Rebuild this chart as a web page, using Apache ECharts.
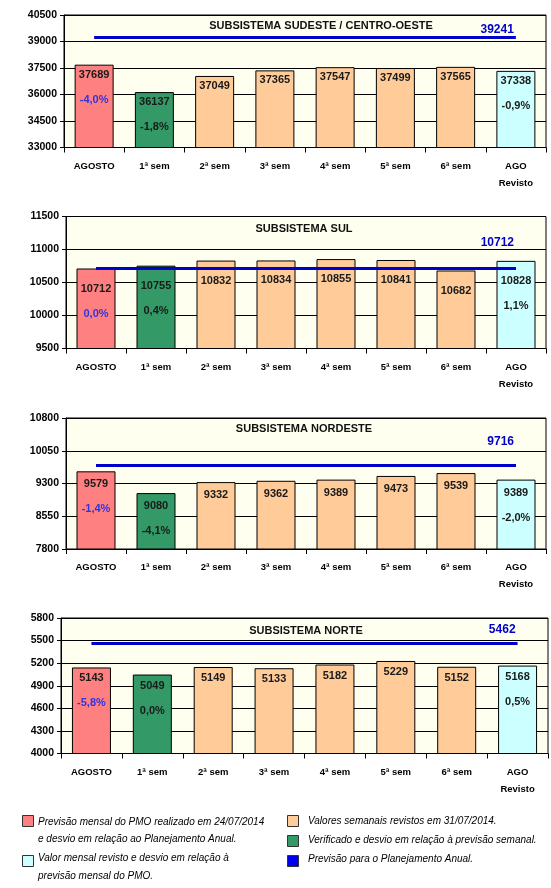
<!DOCTYPE html>
<html>
<head>
<meta charset="utf-8">
<script src="https://cdn.jsdelivr.net/npm/echarts@6/dist/echarts.min.js"></script>
<style>
html,body{margin:0;padding:0;background:#fff;}
#c{width:551px;height:888px;}
</style>
</head>
<body>
<div id="c"></div>
<script>
// ---- data ----
const categories = ['AGOSTO', '1ª sem', '2ª sem', '3ª sem', '4ª sem', '5ª sem', '6ª sem', 'AGO\nRevisto'];

const titles = ['SUBSISTEMA SUDESTE / CENTRO-OESTE', 'SUBSISTEMA SUL', 'SUBSISTEMA NORDESTE', 'SUBSISTEMA NORTE'];

const seValues  = [37689, 36137, 37049, 37365, 37547, 37499, 37565, 37338];
const sulValues = [10712, 10755, 10832, 10834, 10855, 10841, 10682, 10828];
const neValues  = [9579, 9080, 9332, 9362, 9389, 9473, 9539, 9389];
const nValues   = [5143, 5049, 5149, 5133, 5182, 5229, 5152, 5168];

const sePct  = ['-4,0%', '-1,8%', '', '', '', '', '', '-0,9%'];
const sulPct = ['0,0%', '0,4%', '', '', '', '', '', '1,1%'];
const nePct  = ['-1,4%', '-4,1%', '', '', '', '', '', '-2,0%'];
const nPct   = ['-5,8%', '0,0%', '', '', '', '', '', '0,5%'];

const annualForecast = [39241, 10712, 9716, 5462];

const seTicks  = [33000, 34500, 36000, 37500, 39000, 40500];
const sulTicks = [9500, 10000, 10500, 11000, 11500];
const neTicks  = [7800, 8550, 9300, 10050, 10800];
const nTicks   = [4000, 4300, 4600, 4900, 5200, 5500, 5800];

const legendLeft = [
  'Previsão mensal do PMO realizado em 24/07/2014',
  'e desvio em relação ao Planejamento Anual.',
  'Valor mensal revisto e desvio em relação à',
  'previsão mensal do PMO.'
];
const legendRight = [
  'Valores semanais revistos em 31/07/2014.',
  'Verificado e desvio em relação à previsão semanal.',
  'Previsão para o Planejamento Anual.'
];

// ---- layout / style ----
const FONT = '"Liberation Sans", Arial, sans-serif';
const barColors = ['#FF8080', '#339966', '#FFCC99', '#FFCC99', '#FFCC99', '#FFCC99', '#FFCC99', '#CCFFFF'];
const lineColor = '#0000CC';

const layouts = [
  {left: 64, right: 5, top: 15,    height: 132.5, titleX: 321, titleY: 26,  lblRise: 0,  valDist: 3},
  {left: 66, right: 5, top: 216.5, height: 132,   titleX: 304, titleY: 229, lblRise: 18, valDist: 13},
  {left: 66, right: 5, top: 418,   height: 131,   titleX: 304, titleY: 429, lblRise: 16, valDist: 6},
  {left: 61, right: 3, top: 618,   height: 135.5, titleX: 306, titleY: 631, lblRise: 6,  valDist: 4}
];

const valuesList = [seValues, sulValues, neValues, nValues];
const pctList = [sePct, sulPct, nePct, nPct];
const ticksList = [seTicks, sulTicks, neTicks, nTicks];

const grids = [], xAxes = [], yAxes = [], series = [], graphics = [];

layouts.forEach((L, i) => {
  const ticks = ticksList[i];
  const vals = valuesList[i];
  const pcts = pctList[i];
  grids.push({
    left: L.left, right: L.right, top: L.top, height: L.height,
    show: true, backgroundColor: '#FFFFF0', borderColor: '#000', borderWidth: 1
  });
  xAxes.push({
    type: 'category', gridIndex: i, data: categories, boundaryGap: true,
    axisLine: {show: true, lineStyle: {color: '#000', width: 1}},
    axisTick: {show: true, length: 5, inside: false, lineStyle: {color: '#000'}},
    axisLabel: {
      color: '#000', fontFamily: FONT, fontWeight: 'bold', fontSize: 9.5,
      lineHeight: 17, margin: 10, interval: 0
    },
    splitLine: {show: false}
  });
  yAxes.push({
    type: 'value', gridIndex: i,
    min: ticks[0], max: ticks[ticks.length - 1], interval: ticks[1] - ticks[0],
    axisLine: {show: true, lineStyle: {color: '#000', width: 1}},
    axisTick: {show: true, length: 4, lineStyle: {color: '#000'}},
    axisLabel: {
      color: '#000', fontFamily: FONT, fontWeight: 'bold', fontSize: 10.5, margin: 7,
      formatter: v => String(v)
    },
    splitLine: {show: true, lineStyle: {color: '#000', width: 1}}
  });
  const annual = annualForecast[i];
  series.push({
    type: 'bar', xAxisIndex: i, yAxisIndex: i,
    data: vals, barWidth: 39,
    itemStyle: {
      color: p => barColors[p.dataIndex],
      borderColor: '#000', borderWidth: 1
    },
    label: {
      show: true, position: 'insideTop', distance: L.valDist,
      formatter: p => {
        const pct = pcts[p.dataIndex];
        let s = '{v|' + p.value + '}';
        if (pct) s += '\n' + (p.dataIndex === 0 ? '{pb|' + pct + '}' : '{p|' + pct + '}');
        return s;
      },
      rich: {
        v:  {fontFamily: FONT, fontWeight: 'bold', fontSize: 11, color: '#1a1a1a', lineHeight: 14},
        p:  {fontFamily: FONT, fontWeight: 'bold', fontSize: 11, color: '#1a1a1a', lineHeight: 36},
        pb: {fontFamily: FONT, fontWeight: 'bold', fontSize: 11, color: '#3333DD', lineHeight: 36}
      }
    },
    markLine: {
      silent: true, symbol: 'none', animation: false,
      lineStyle: {color: lineColor, width: 3, type: 'solid'},
      label: {
        show: true, position: 'insideEndTop', distance: 2, offset: [0, -L.lblRise],
        formatter: String(annual),
        color: lineColor, fontFamily: FONT, fontWeight: 'bold', fontSize: 12
      },
      data: [[{coord: [categories[0], annual]}, {coord: [categories[categories.length - 1], annual]}]]
    },
    animation: false
  });
  graphics.push({
    type: 'text', x: L.titleX, y: L.titleY, z: 10,
    style: {
      text: titles[i], fill: '#111', font: 'bold 11px ' + FONT,
      textAlign: 'center', textVerticalAlign: 'middle'
    }
  });
});

// legend
const legendSq = (x, y, color) => ({
  type: 'rect', shape: {x: x, y: y, width: 11, height: 11},
  style: {fill: color, stroke: '#333', lineWidth: 1}
});
const legendTxt = (x, y, t) => ({
  type: 'text', x: x, y: y,
  style: {text: t, fill: '#000', font: 'italic 10px ' + FONT, textVerticalAlign: 'middle'}
});
graphics.push(legendSq(22.5, 815.5, '#FF8080'));
graphics.push(legendTxt(38, 822, legendLeft[0]));
graphics.push(legendTxt(38, 839, legendLeft[1]));
graphics.push(legendSq(22.5, 855.5, '#CCFFFF'));
graphics.push(legendTxt(38, 858, legendLeft[2]));
graphics.push(legendTxt(38, 876, legendLeft[3]));
graphics.push(legendSq(287.5, 815.5, '#FFCC99'));
graphics.push(legendTxt(308, 821, legendRight[0]));
graphics.push(legendSq(287.5, 835.5, '#339966'));
graphics.push(legendTxt(308, 840, legendRight[1]));
graphics.push(legendSq(287.5, 855.5, '#0000EE'));
graphics.push(legendTxt(308, 859, legendRight[2]));

const chart = echarts.init(document.getElementById('c'), null, {renderer: 'canvas'});
chart.setOption({
  animation: false,
  backgroundColor: '#fff',
  grid: grids, xAxis: xAxes, yAxis: yAxes, series: series,
  graphic: graphics
});
</script>
</body>
</html>
